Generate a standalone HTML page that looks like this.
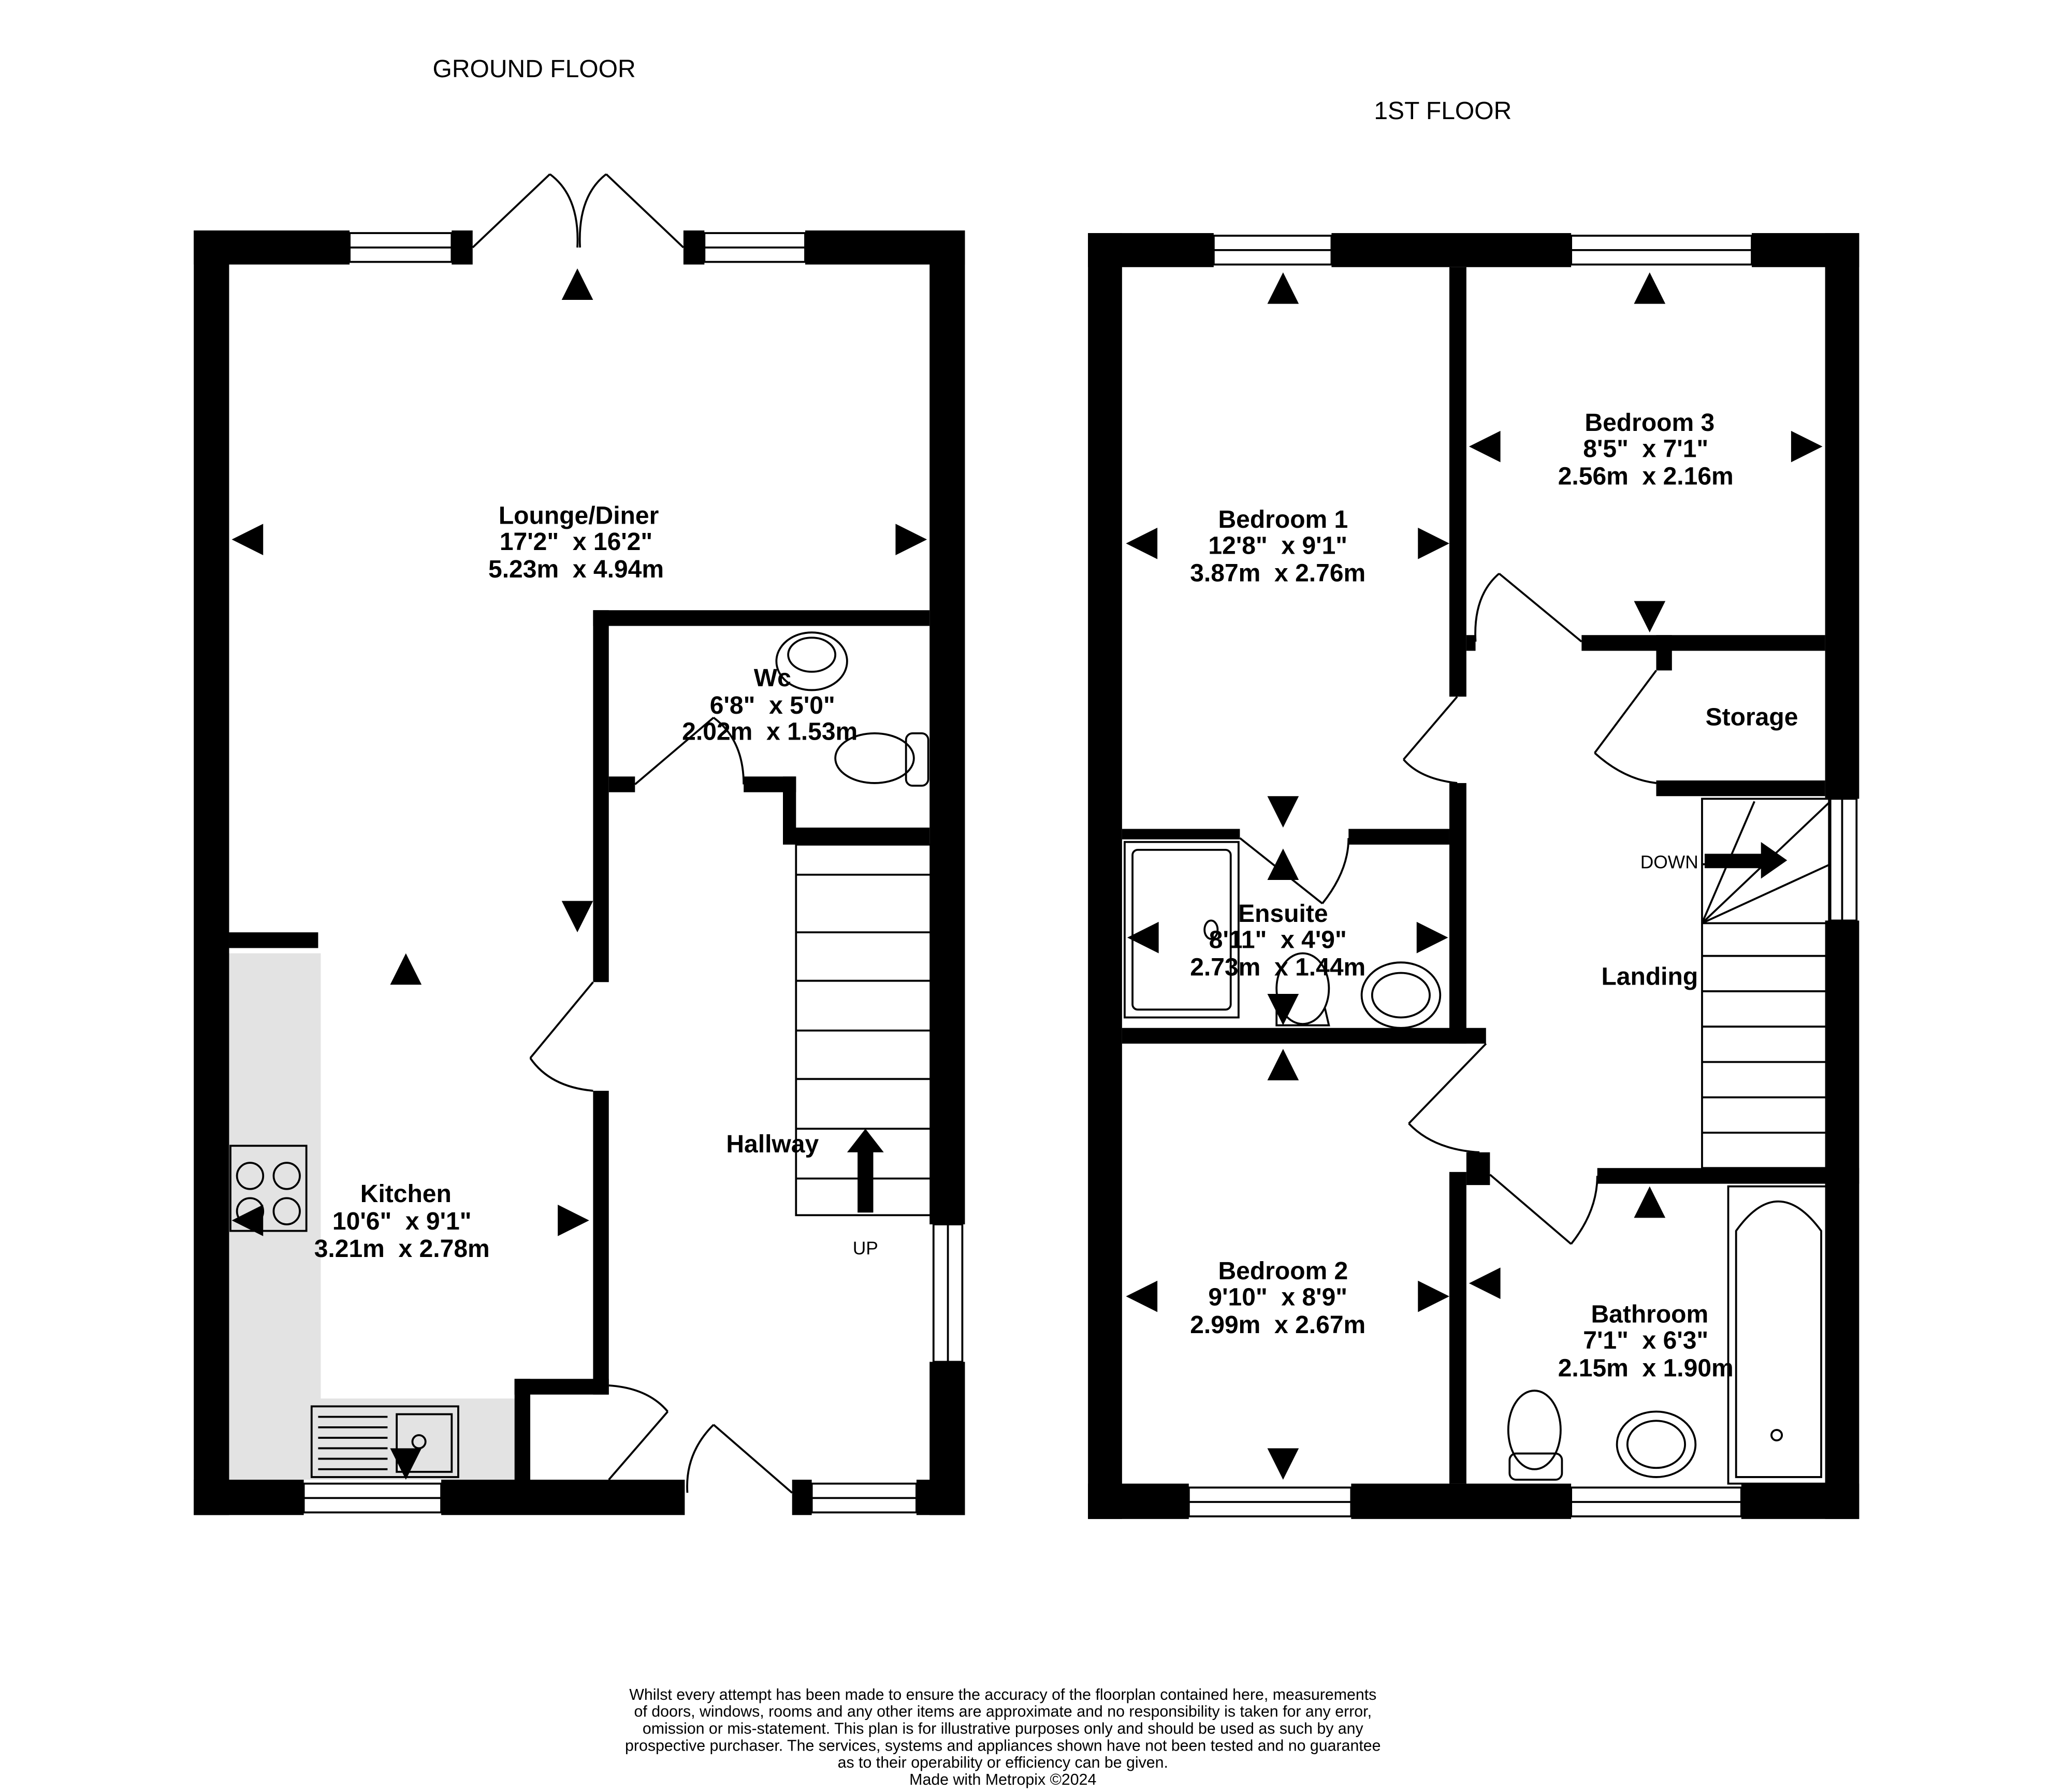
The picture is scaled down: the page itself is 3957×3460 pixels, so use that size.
<!DOCTYPE html>
<html><head><meta charset="utf-8"><style>
html,body{margin:0;padding:0;background:#fff}
svg{display:block}
text{font-family:"Liberation Sans",sans-serif;white-space:pre}
.b{font-weight:bold;font-size:19px}
</style></head><body>
<svg width="3957" height="3460" viewBox="0 0 1565 1368.5" preserveAspectRatio="none" xmlns="http://www.w3.org/2000/svg" xml:space="preserve">
<rect width="1565" height="1368.5" fill="#fff"/>
<text x="408" y="59" font-size="19" text-anchor="middle">GROUND FLOOR</text>
<text x="1102" y="91" font-size="19" text-anchor="middle">1ST FLOOR</text>

<!-- GROUND FLOOR -->
<g fill="#e3e3e3"><rect x="175" y="728" width="70" height="402"/><rect x="245" y="1068" width="148" height="62"/></g>
<g fill="#000">
<rect x="148" y="176" width="27" height="981"/>
<rect x="148" y="176" width="119" height="26"/>
<rect x="345" y="176" width="16" height="26"/>
<rect x="522" y="176" width="16" height="26"/>
<rect x="615" y="176" width="122" height="26"/>
<rect x="710" y="176" width="27" height="759"/>
<rect x="710" y="1040" width="27" height="117"/>
<rect x="148" y="1130" width="84" height="27"/>
<rect x="337" y="1130" width="186" height="27"/>
<rect x="605" y="1130" width="15" height="27"/>
<rect x="700" y="1130" width="37" height="27"/>
<rect x="453" y="466" width="257" height="12"/>
<rect x="453" y="466" width="12" height="284"/>
<rect x="465" y="593" width="20" height="12"/>
<rect x="568" y="593" width="40" height="12"/>
<rect x="598" y="593" width="10" height="47"/>
<rect x="598" y="632" width="112" height="13"/>
<rect x="453" y="833" width="12" height="232"/>
<rect x="393" y="1053" width="72" height="12"/>
<rect x="393" y="1053" width="12" height="77"/>
<rect x="175" y="712" width="68" height="12"/>
</g>
<g fill="none" stroke="#000" stroke-width="1.5">
<rect x="267" y="178" width="78" height="22"/><line x1="267" y1="189" x2="345" y2="189"/>
<rect x="538" y="178" width="77" height="22"/><line x1="538" y1="189" x2="615" y2="189"/>
<rect x="232" y="1133" width="105" height="22"/><line x1="232" y1="1144" x2="337" y2="1144"/>
<rect x="620" y="1133" width="80" height="22"/><line x1="620" y1="1144" x2="700" y2="1144"/>
<rect x="713" y="935" width="22" height="105"/><line x1="724" y1="935" x2="724" y2="1040"/>
<line x1="361" y1="189" x2="420" y2="133"/><path d="M420 133 Q443 150 441 189"/>
<line x1="522" y1="189" x2="463" y2="133"/><path d="M463 133 Q441 150 443 189"/>
<line x1="485" y1="599" x2="545" y2="548"/><path d="M545 548 Q568 565 568 599"/>
<line x1="453" y1="750" x2="405" y2="808"/><path d="M405 808 Q420 830 453 833"/>
<line x1="510" y1="1078" x2="465" y2="1130"/><path d="M465 1058 Q495 1060 510 1078"/>
<line x1="545" y1="1088" x2="605" y2="1140"/><path d="M545 1088 Q523 1110 525 1140"/>
<rect x="608" y="645" width="105" height="283"/>
<g><line x1="608" y1="668" x2="713" y2="668"/><line x1="608" y1="712" x2="713" y2="712"/><line x1="608" y1="749" x2="713" y2="749"/><line x1="608" y1="787" x2="713" y2="787"/><line x1="608" y1="824" x2="713" y2="824"/><line x1="608" y1="862" x2="713" y2="862"/><line x1="608" y1="900" x2="713" y2="900"/></g>
<ellipse cx="620" cy="505" rx="27" ry="22"/><ellipse cx="620" cy="500" rx="18" ry="13"/>
<ellipse cx="668" cy="579" rx="30" ry="19"/><rect x="692" y="560" width="17" height="40" rx="5"/>
<rect x="176" y="875" width="58" height="65"/>
<circle cx="191" cy="898" r="10"/><circle cx="219" cy="898" r="10"/><circle cx="191" cy="925" r="10"/><circle cx="219" cy="925" r="10"/>
<rect x="238" y="1074" width="112" height="54"/><rect x="303" y="1080" width="42" height="44"/>
<g><line x1="243" y1="1082" x2="296" y2="1082"/><line x1="243" y1="1090" x2="296" y2="1090"/><line x1="243" y1="1098" x2="296" y2="1098"/><line x1="243" y1="1106" x2="296" y2="1106"/><line x1="243" y1="1114" x2="296" y2="1114"/><line x1="243" y1="1122" x2="296" y2="1122"/></g>
<circle cx="320" cy="1101" r="5"/>
</g>
<g fill="#000">
<polygon points="441,205 429,229 453,229"/>
<polygon points="177,412 201,400 201,424"/>
<polygon points="708,412 684,400 684,424"/>
<polygon points="441,712 429,688 453,688"/>
<polygon points="310,728 298,752 322,752"/>
<polygon points="450,932 426,920 426,944"/>
<polygon points="177,932 201,920 201,944"/>
<polygon points="310,1130 298,1106 322,1106"/>
<polygon points="661,862 647,880 675,880"/><rect x="655" y="878" width="12" height="48"/>
</g>
<g text-anchor="middle">
<text x="442" y="400" class="b">Lounge/Diner</text><text x="440" y="420" class="b">17'2"  x 16'2"</text><text x="440" y="441" class="b">5.23m  x 4.94m</text>
<text x="590" y="524" class="b">Wc</text><text x="590" y="545" class="b">6'8"  x 5'0"</text><text x="588" y="565" class="b">2.02m  x 1.53m</text>
<text x="590" y="880" class="b">Hallway</text>
<text x="310" y="918" class="b">Kitchen</text><text x="307" y="939" class="b">10'6"  x 9'1"</text><text x="307" y="960" class="b">3.21m  x 2.78m</text>
</g>
<text x="661" y="958" font-size="14" text-anchor="middle">UP</text>

<!-- FIRST FLOOR -->
<g fill="#000">
<rect x="831" y="178" width="26" height="982"/>
<rect x="831" y="178" width="96" height="26"/>
<rect x="1017" y="178" width="183" height="26"/>
<rect x="1338" y="178" width="82" height="26"/>
<rect x="1394" y="178" width="26" height="432"/>
<rect x="1394" y="703" width="26" height="457"/>
<rect x="831" y="1133" width="77" height="27"/>
<rect x="1032" y="1133" width="168" height="27"/>
<rect x="1330" y="1133" width="90" height="27"/>
<rect x="1107" y="204" width="13" height="328"/>
<rect x="1120" y="485" width="7" height="12"/>
<rect x="1107" y="598" width="13" height="199"/>
<rect x="1208" y="485" width="186" height="12"/>
<rect x="1265" y="485" width="12" height="27"/>
<rect x="1265" y="596" width="129" height="12"/>
<rect x="857" y="633" width="90" height="8"/>
<rect x="1030" y="633" width="77" height="12"/>
<rect x="857" y="785" width="278" height="12"/>
<rect x="1107" y="895" width="13" height="238"/>
<rect x="1120" y="880" width="18" height="25"/>
<rect x="1220" y="892" width="200" height="12"/>
</g>
<g fill="none" stroke="#000" stroke-width="1.5">
<rect x="927" y="180" width="90" height="22"/><line x1="927" y1="191" x2="1017" y2="191"/>
<rect x="1200" y="180" width="138" height="22"/><line x1="1200" y1="191" x2="1338" y2="191"/>
<rect x="908" y="1136" width="124" height="22"/><line x1="908" y1="1147" x2="1032" y2="1147"/>
<rect x="1200" y="1136" width="130" height="22"/><line x1="1200" y1="1147" x2="1330" y2="1147"/>
<rect x="1397" y="610" width="21" height="93"/><line x1="1407" y1="610" x2="1407" y2="703"/>
<line x1="1208" y1="490" x2="1145" y2="438"/><path d="M1145 438 Q1125 455 1127 490"/>
<line x1="1265" y1="512" x2="1218" y2="575"/><path d="M1218 575 Q1240 595 1265 598"/>
<line x1="1113" y1="532" x2="1072" y2="580"/><path d="M1072 580 Q1085 595 1113 598"/>
<line x1="947" y1="640" x2="1010" y2="690"/><path d="M1010 690 Q1030 665 1030 640"/>
<line x1="1135" y1="797" x2="1076" y2="858"/><path d="M1076 858 Q1095 878 1130 880"/>
<line x1="1138" y1="897" x2="1200" y2="950"/><path d="M1200 950 Q1220 925 1220 898"/>
<rect x="1300" y="610" width="98" height="282"/>
<line x1="1300" y1="705" x2="1398" y2="705"/>
<line x1="1300" y1="705" x2="1398" y2="612"/><line x1="1300" y1="705" x2="1340" y2="612"/><line x1="1300" y1="705" x2="1398" y2="660"/><line x1="1300" y1="660" x2="1320" y2="660"/>
<g><line x1="1300" y1="730" x2="1398" y2="730"/><line x1="1300" y1="757" x2="1398" y2="757"/><line x1="1300" y1="784" x2="1398" y2="784"/><line x1="1300" y1="811" x2="1398" y2="811"/><line x1="1300" y1="838" x2="1398" y2="838"/><line x1="1300" y1="865" x2="1398" y2="865"/></g>
<rect x="859" y="643" width="87" height="134"/><rect x="865" y="649" width="75" height="122" rx="4"/>
<ellipse cx="925" cy="710" rx="5" ry="7"/>
<ellipse cx="995" cy="755" rx="20" ry="27"/><path d="M975 770 L975 783 L1015 783 L1012 770"/>
<ellipse cx="1070" cy="760" rx="30" ry="25"/><ellipse cx="1070" cy="760" rx="22" ry="17"/>
<rect x="1320" y="906" width="77" height="227"/><path d="M1326 1128 L1326 940 Q1358 895 1391 940 L1391 1128 Z"/>
<circle cx="1357" cy="1096" r="4"/>
<ellipse cx="1172" cy="1092" rx="20" ry="30"/><rect x="1153" y="1110" width="40" height="20" rx="5"/>
<ellipse cx="1265" cy="1103" rx="30" ry="25"/><ellipse cx="1265" cy="1103" rx="22" ry="18"/>
</g>
<g fill="#000">
<polygon points="980,208 968,232 992,232"/>
<polygon points="1260,208 1248,232 1272,232"/>
<polygon points="860,415 884,403 884,427"/>
<polygon points="1107,415 1083,403 1083,427"/>
<polygon points="1122,341 1146,329 1146,353"/>
<polygon points="1392,341 1368,329 1368,353"/>
<polygon points="1260,483 1248,459 1272,459"/>
<polygon points="980,632 968,608 992,608"/>
<polygon points="980,648 968,672 992,672"/>
<polygon points="861,716 885,704 885,728"/>
<polygon points="1106,716 1082,704 1082,728"/>
<polygon points="980,783 968,759 992,759"/>
<polygon points="980,801 968,825 992,825"/>
<polygon points="860,990 884,978 884,1002"/>
<polygon points="1107,990 1083,978 1083,1002"/>
<polygon points="980,1130 968,1106 992,1106"/>
<polygon points="1260,906 1248,930 1272,930"/>
<polygon points="1122,980 1146,968 1146,992"/>
<rect x="1302" y="652" width="46" height="11"/><polygon points="1365,657 1345,643 1345,671"/>
</g>
<g text-anchor="middle">
<text x="1260" y="329" class="b">Bedroom 3</text><text x="1257" y="349" class="b">8'5"  x 7'1"</text><text x="1257" y="370" class="b">2.56m  x 2.16m</text>
<text x="980" y="403" class="b">Bedroom 1</text><text x="976" y="423" class="b">12'8"  x 9'1"</text><text x="976" y="444" class="b">3.87m  x 2.76m</text>
<text x="1338" y="554" class="b">Storage</text>
<text x="980" y="704" class="b">Ensuite</text><text x="976" y="724" class="b">8'11"  x 4'9"</text><text x="976" y="745" class="b">2.73m  x 1.44m</text>
<text x="1260" y="752" class="b">Landing</text>
<text x="980" y="977" class="b">Bedroom 2</text><text x="976" y="997" class="b">9'10"  x 8'9"</text><text x="976" y="1018" class="b">2.99m  x 2.67m</text>
<text x="1260" y="1010" class="b">Bathroom</text><text x="1257" y="1030" class="b">7'1"  x 6'3"</text><text x="1257" y="1051" class="b">2.15m  x 1.90m</text>
</g>
<text x="1275" y="663" font-size="14" text-anchor="middle">DOWN</text>

<g font-size="12" text-anchor="middle">
<text x="766" y="1298">Whilst every attempt has been made to ensure the accuracy of the floorplan contained here, measurements</text>
<text x="766" y="1311">of doors, windows, rooms and any other items are approximate and no responsibility is taken for any error,</text>
<text x="766" y="1324">omission or mis-statement. This plan is for illustrative purposes only and should be used as such by any</text>
<text x="766" y="1337">prospective purchaser. The services, systems and appliances shown have not been tested and no guarantee</text>
<text x="766" y="1350">as to their operability or efficiency can be given.</text>
<text x="766" y="1363">Made with Metropix ©2024</text>
</g>
</svg>
</body></html>
